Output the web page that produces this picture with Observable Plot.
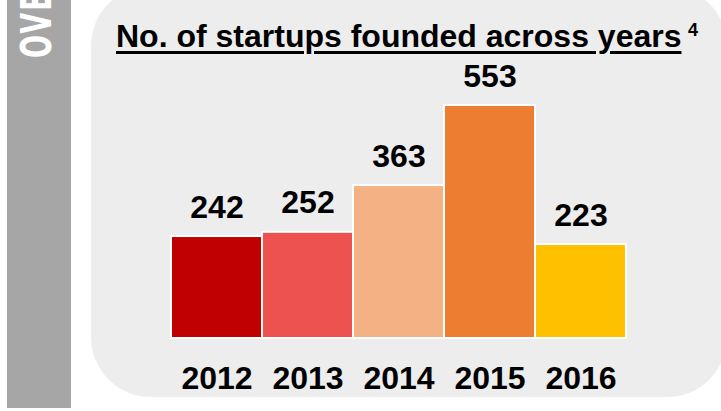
<!DOCTYPE html>
<html>
<head>
<meta charset="utf-8">
<script src="https://cdn.jsdelivr.net/npm/d3@7"></script>
<script src="https://cdn.jsdelivr.net/npm/@observablehq/plot@0.6"></script>
<style>
  html, body { margin: 0; padding: 0; background: #ffffff; }
  body { width: 721px; height: 411px; overflow: hidden; position: relative; font-family: "Liberation Sans", Arial, sans-serif; }
  #strip { position: absolute; left: 7px; top: 0; width: 64px; height: 408px; background: #A6A6A6; overflow: hidden; }
  #side { position: absolute; left: 8px; top: 58px; transform-origin: 0 0; transform: rotate(-90deg) scaleX(0.7);
          font-family: "Liberation Sans Narrow", "DejaVu Sans Condensed", sans-serif; font-weight: bold;
          font-size: 43px; line-height: 1; color: #ffffff; white-space: nowrap; letter-spacing: 3px; }
  #panel { position: absolute; left: 91px; top: -14px; width: 636px; height: 411px; background: #EDEDED; border-radius: 60px; }
  #title { position: absolute; left: 116px; top: 20px; font-size: 32px; line-height: 1; font-weight: bold; color: #000;
           white-space: nowrap; text-decoration: underline; text-decoration-thickness: 2.5px; text-underline-offset: 4px; }
  #sup { position: absolute; left: 688px; top: 21px; font-size: 18px; line-height: 1; font-weight: bold; color: #000; }
  #chart { position: absolute; left: 0; top: 0; }
</style>
</head>
<body>
<div id="strip"><div id="side">OVERVIEW</div></div>
<div id="panel"></div>
<div id="title">No. of startups founded across years</div>
<div id="sup">4</div>
<div id="chart"></div>
<script>
const years = ["2012", "2013", "2014", "2015", "2016"];
const counts = [242, 252, 363, 553, 223];
const barColors = ["#C00000", "#EE5250", "#F4B183", "#ED7D31", "#FFC000"];

const data = years.map((y, i) => ({year: y, count: counts[i]}));

const svg = Plot.plot({
  width: 721,
  height: 411,
  marginLeft: 170,
  marginRight: 95,
  marginTop: 105,
  marginBottom: 73,
  style: {background: "transparent", fontFamily: "'Liberation Sans', Arial, sans-serif", overflow: "visible"},
  x: {domain: years, padding: 0, label: null, tickSize: 0, tickPadding: 28},
  y: {domain: [0, 553], axis: null},
  color: {domain: years, range: barColors},
  marks: [
    Plot.barY(data, {x: "year", y: "count", fill: "year", stroke: "white", strokeWidth: 2}),
    Plot.text(data, {x: "year", y: "count", text: d => String(d.count), dy: -19, lineAnchor: "bottom",
                     fontSize: 32, fontWeight: "bold", fill: "#000"})
  ]
});
svg.querySelectorAll('g[aria-label^="x-axis"] text').forEach(t => {
  t.style.fontSize = "32px";
  t.style.fontWeight = "bold";
  t.style.fill = "#000";
});
document.getElementById("chart").appendChild(svg);
</script>
</body>
</html>
